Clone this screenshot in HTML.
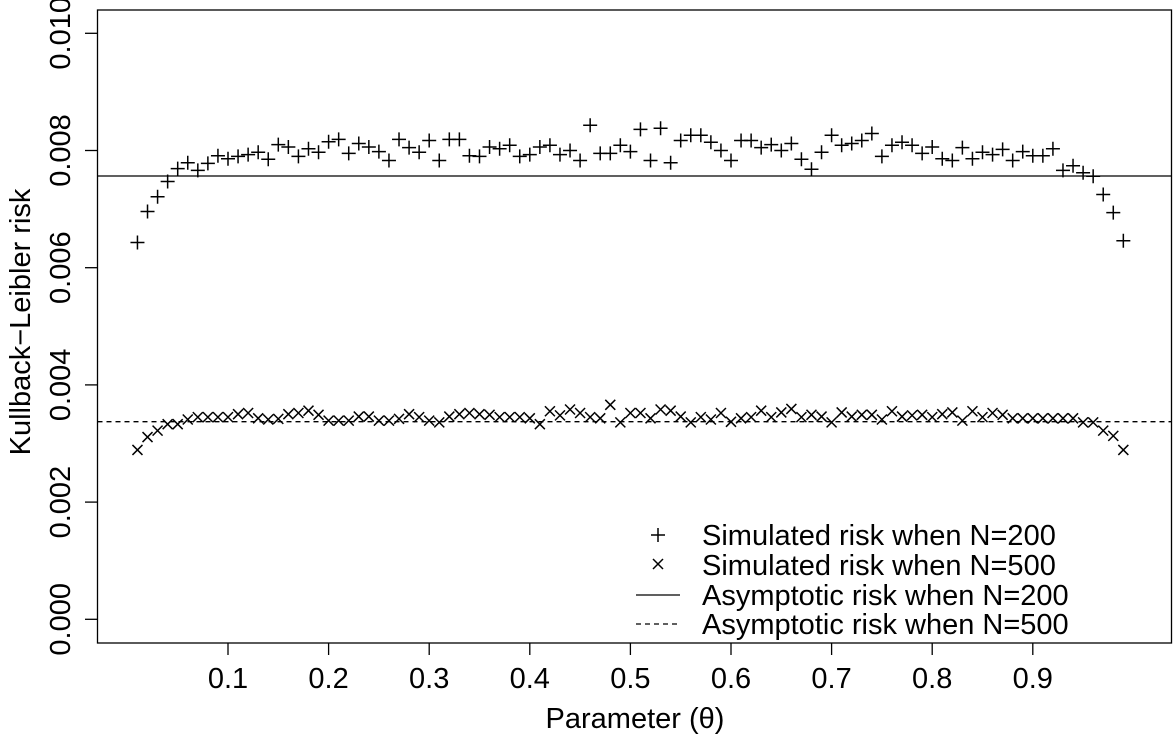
<!DOCTYPE html>
<html><head><meta charset="utf-8"><style>
html,body{margin:0;padding:0;background:#fff;}
svg{display:block;font-family:"Liberation Sans",Arial,sans-serif;}
</style></head><body>
<svg id="chart" width="1173" height="737" viewBox="0 0 1173 737" xmlns="http://www.w3.org/2000/svg">
<g id="marks"></g>
<rect x="97.5" y="10" width="1074" height="633" fill="none" stroke="#000" stroke-width="1.3"/>
<g id="axes"></g>
<text x="635" y="728" font-size="29" text-anchor="middle">Parameter (θ)</text>
<text transform="translate(30,322) rotate(-90)" font-size="29" text-anchor="middle">Kullback−Leibler risk</text>
<g font-size="29">
  <g>
    <path d="M651 535 h14 M658 528 v14" stroke="#000" stroke-width="1.5"/>
    <text x="702" y="545">Simulated risk when N=200</text>
  </g>
  <g>
    <path d="M653 559 l10 10 M663 559 l-10 10" stroke="#000" stroke-width="1.5"/>
    <text x="702" y="575">Simulated risk when N=500</text>
  </g>
  <g>
    <line x1="636" y1="595" x2="680" y2="595" stroke="#000" stroke-width="1.3"/>
    <text x="702" y="605">Asymptotic risk when N=200</text>
  </g>
  <g>
    <line x1="636" y1="624" x2="680" y2="624" stroke="#000" stroke-width="1.3" stroke-dasharray="5,4"/>
    <text x="702" y="634">Asymptotic risk when N=500</text>
  </g>
</g>
</svg>
<script>
const sim200 = [6.43,6.96,7.21,7.47,7.69,7.79,7.66,7.78,7.91,7.86,7.90,7.93,7.97,7.85,8.10,8.06,7.90,8.03,7.97,8.15,8.19,7.95,8.12,8.06,7.98,7.83,8.19,8.05,7.97,8.17,7.83,8.19,8.19,7.91,7.90,
8.06,8.03,8.09,7.90,7.93,8.06,8.09,7.93,8.00,7.83,8.43,7.95,7.95,8.09,7.98,8.36,7.83,8.38,7.79,8.17,8.26,8.26,8.14,8.00,7.83,8.17,8.17,8.05,8.10,8.00,8.12,7.85,
7.68,7.97,8.26,8.09,8.12,8.17,8.29,7.90,8.09,8.14,8.09,7.95,8.06,7.86,7.83,8.05,7.86,7.97,7.93,8.02,7.83,7.98,7.91,7.91,8.03,7.66,7.74,7.62,7.56,7.25,6.94,6.46];
const sim500 = [2.89,3.11,3.22,3.33,3.33,3.41,3.45,3.45,3.45,3.45,3.50,3.52,3.43,3.41,3.42,3.50,3.52,3.56,3.49,3.39,3.39,3.39,3.46,3.46,3.39,3.39,3.42,3.50,3.45,3.39,3.36,3.46,3.50,
3.52,3.50,3.49,3.45,3.45,3.45,3.43,3.33,3.55,3.48,3.58,3.52,3.45,3.43,3.66,3.36,3.52,3.52,3.43,3.58,3.56,3.46,3.36,3.45,3.41,3.52,3.37,3.43,3.45,3.56,3.45,3.53,3.59,3.45,
3.49,3.46,3.36,3.53,3.46,3.49,3.49,3.41,3.55,3.46,3.48,3.49,3.45,3.50,3.53,3.39,3.55,3.45,3.52,3.49,3.43,3.43,3.43,3.43,3.43,3.43,3.43,3.36,3.36,3.22,3.13,2.89];
const asym200 = 0.007565;
const asym500 = 0.003372;
const xTicks = [0.1,0.2,0.3,0.4,0.5,0.6,0.7,0.8,0.9];
const xTickLabels = ["0.1","0.2","0.3","0.4","0.5","0.6","0.7","0.8","0.9"];
const yTicks = [0,0.002,0.004,0.006,0.008,0.010];
const yTickLabels = ["0.000","0.002","0.004","0.006","0.008","0.010"];

const X = t => 228 + (t - 0.1) * 1006;
const Y = v => 619.3 - v * 58600;
const NS = "http://www.w3.org/2000/svg";
function mk(tag, attrs, parent){const e=document.createElementNS(NS,tag);for(const k in attrs)e.setAttribute(k,attrs[k]);parent.appendChild(e);return e;}
const marks=document.getElementById('marks'), axes=document.getElementById('axes');

let l1=mk('line',{x1:97.5,x2:1171.5,y1:Y(asym200),y2:Y(asym200),stroke:'#000','stroke-width':1.3},marks);


let l2=mk('line',{x1:97.5,x2:1171.5,y1:Y(asym500),y2:Y(asym500),stroke:'#000','stroke-width':1.3,'stroke-dasharray':'5,4'},marks);



sim200.forEach((v,i)=>{const t=(i+1)/100,x=X(t),y=Y(v/1000);
  const p=mk('path',{d:`M${x-7} ${y} h14 M${x} ${y-7} v14`,stroke:'#000','stroke-width':1.5,fill:'none'},marks);
  
  });
sim500.forEach((v,i)=>{const t=(i+1)/100,x=X(t),y=Y(v/1000);
  const p=mk('path',{d:`M${x-5} ${y-5} l10 10 M${x+5} ${y-5} l-10 10`,stroke:'#000','stroke-width':1.5,fill:'none'},marks);
  
  });

xTicks.forEach((t,i)=>{
  const tk=mk('line',{x1:X(t),x2:X(t),y1:643,y2:655,stroke:'#000','stroke-width':1.3},axes);
  
  
  const tx=mk('text',{x:X(t),y:688,'font-size':29,'text-anchor':'middle'},axes);
  tx.textContent=xTickLabels[i];
  
  });
yTicks.forEach((v,i)=>{
  const tk=mk('line',{x1:85,x2:97.5,y1:Y(v),y2:Y(v),stroke:'#000','stroke-width':1.3},axes);
  
  
  const tx=mk('text',{transform:`translate(70,${Y(v)}) rotate(-90)`,'font-size':29,'text-anchor':'middle'},axes);
  tx.textContent=yTickLabels[i];
  
  });
</script>
</body></html>
